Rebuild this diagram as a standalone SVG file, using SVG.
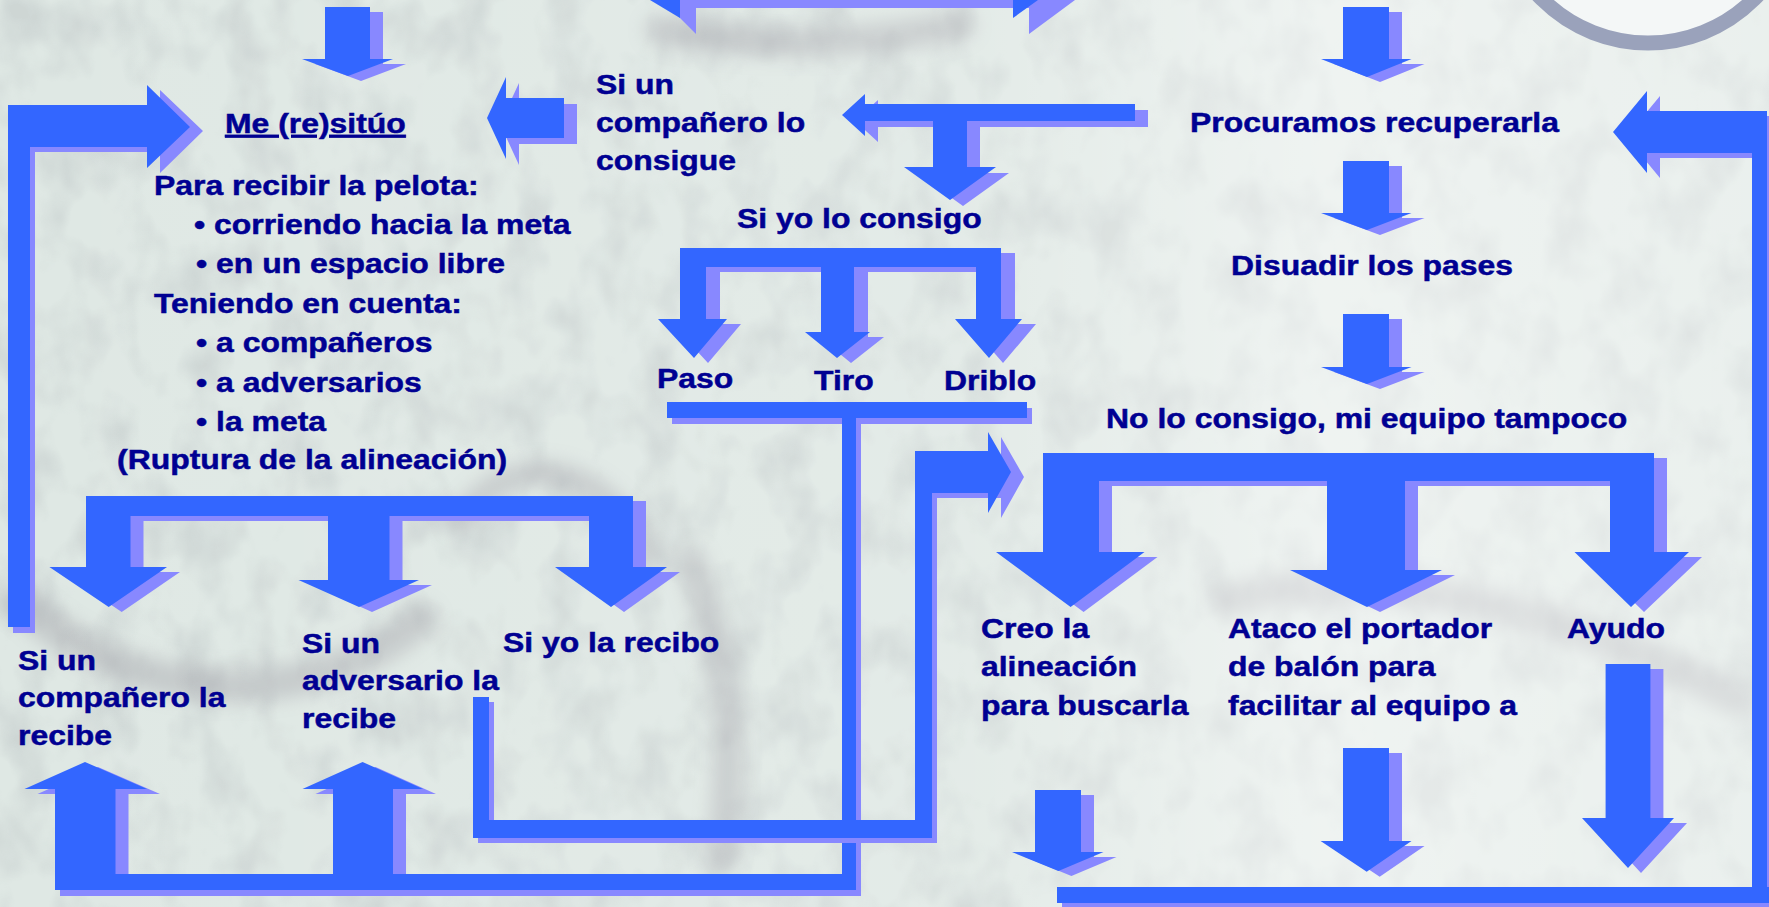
<svg xmlns="http://www.w3.org/2000/svg" xmlns:xlink="http://www.w3.org/1999/xlink" width="1769" height="907" viewBox="0 0 1769 907">
<style>
.b{fill:#3366ff}
.s{fill:#8888ff}
.t{font-family:"Liberation Sans",Arial,sans-serif;font-weight:bold;font-size:28.5px;fill:#000092;stroke:#000092;stroke-width:0.5px}
</style>
<defs>
<filter id="tex" x="0" y="0" width="1" height="1" filterUnits="objectBoundingBox">
<feTurbulence type="fractalNoise" baseFrequency="0.022 0.016" numOctaves="3" seed="5" result="n"/>
<feColorMatrix in="n" type="matrix" values="0 0 0 0 0.55  0 0 0 0 0.6  0 0 0 0 0.6  2.4 0 0 0 -1.0"/>
</filter>
<filter id="blur" x="-20%" y="-20%" width="140%" height="140%"><feGaussianBlur stdDeviation="9"/></filter>
<linearGradient id="fade" x1="0" y1="0" x2="1" y2="0">
<stop offset="0" stop-color="#ffffff" stop-opacity="0"/>
<stop offset="0.55" stop-color="#ffffff" stop-opacity="0.15"/>
<stop offset="0.75" stop-color="#ffffff" stop-opacity="0.5"/>
<stop offset="1" stop-color="#ffffff" stop-opacity="0.35"/>
</linearGradient>
<path id="a-top" d="M325,7H370V59H393L348,76L302,59H325Z"/>
<path id="a-r1" d="M1343,7H1389V59H1411.5L1367,77L1321,59H1343Z"/>
<path id="a-r2" d="M1343,161H1389V213H1411.5L1367,230L1321,213H1343Z"/>
<path id="a-r3" d="M1343,314H1389V367H1411.5L1367,384L1321,367H1343Z"/>
<path id="a-left" d="M564,98V138H506V159L487,118L506,77V98Z"/>
<path id="a-t" d="M1135,104V121H967V167H996L950,200L904,167H933V121H865V136L842,115L865,94V104Z"/>
<path id="a-three" d="M680,248H1001V319H1022L989,358L955,319H976V267H854V332H870L837,358L805,332H821V267H706V319H727L694,358L658,319H680Z"/>
<path id="a-paso" d="M667,402H1027V418H856V890H55V874H842V418H667Z"/>
<path id="a-up1" d="M55,874V789H24.5L85,762L147,789H115.5V874Z"/>
<path id="a-up2" d="M333,874V789H302.5L362.6,762L423,789H393V874Z"/>
<path id="a-big" d="M1043,453H1654V552H1689L1631,607L1574.5,552H1610V481H1405V570H1442L1367,607L1290,570H1327V481H1099V552H1144.5L1070.6,607L996,552H1043Z"/>
<path id="a-k1" d="M1035,790H1081V852H1103.5L1058.4,871L1012,852H1035Z"/>
<path id="a-k2" d="M1343,748H1389V841H1411.5L1366.7,871.7L1320.6,841H1343Z"/>
<path id="a-k3" d="M1605.6,664H1650.4V818H1674L1628,868L1582,818H1605.6Z"/>
<path id="a-lthree" d="M86,496H633V567H667L611,607L555,567H589V516H389.5V580H419L359,607L298.5,580H328V516H130.5V567H167L108.7,607L49.4,567H86Z"/>
</defs>

<g id="background">
<rect width="1769" height="907" fill="#dfe8e4"/>
<rect width="1769" height="907" filter="url(#tex)" opacity="0.6"/>
<g filter="url(#blur)" fill="none" stroke="#8f8c96" stroke-linecap="round" opacity="0.33">
<path d="M20,600 C120,700 300,720 420,620" stroke-width="34"/>
<path d="M460,520 C520,440 610,470 650,560" stroke-width="26"/>
<path d="M1230,600 C1380,560 1560,610 1740,700" stroke-width="34"/>
<path d="M660,30 C760,50 860,45 960,25" stroke-width="30"/>
<path d="M690,560 C720,640 740,720 720,860" stroke-width="30"/>
</g>
<rect width="1769" height="907" fill="url(#fade)"/>
<circle cx="1648" cy="-107" r="150" fill="#f4f7f7" stroke="#9aa2bb" stroke-width="15"/>
</g>

<g id="connectors">
<path class="s" d="M662,0H1075L1029,34V8H696V34Z"/>
<path class="b" d="M650,0H680V18Z"/>
<path class="b" d="M1013,0H1038L1013,18Z"/>

<use xlink:href="#a-top" class="s" transform="translate(13,5)"/>
<use xlink:href="#a-top" class="b"/>
<use xlink:href="#a-r1" class="s" transform="translate(13,5)"/>
<use xlink:href="#a-r1" class="b"/>
<use xlink:href="#a-r2" class="s" transform="translate(13,5)"/>
<use xlink:href="#a-r2" class="b"/>
<use xlink:href="#a-r3" class="s" transform="translate(13,5)"/>
<use xlink:href="#a-r3" class="b"/>

<path class="s" d="M13,110H160V90L203,131L160,173V152H35V633H13Z"/>
<path class="b" d="M8,105H147V85L190,127L147,168V147H30V627H8Z"/>

<use xlink:href="#a-left" class="s" transform="translate(13,6)"/>
<use xlink:href="#a-left" class="b"/>
<use xlink:href="#a-t" class="s" transform="translate(13,6)"/>
<use xlink:href="#a-t" class="b"/>
<use xlink:href="#a-three" class="s" transform="translate(14,5)"/>
<use xlink:href="#a-three" class="b"/>

<use xlink:href="#a-lthree" class="s" transform="translate(13,5)"/>
<use xlink:href="#a-lthree" class="b"/>

<use xlink:href="#a-paso" class="s" transform="translate(5,6)"/>
<use xlink:href="#a-up1" class="s" transform="translate(13,5)"/>
<use xlink:href="#a-up2" class="s" transform="translate(13,5)"/>
<use xlink:href="#a-paso" class="b"/>
<use xlink:href="#a-up1" class="b"/>
<use xlink:href="#a-up2" class="b"/>

<path class="s" d="M478,702H494V825H920V456H1001V437L1024,477L1001,518V498H937V843H478Z"/>
<path class="b" d="M473,697H489V820H915V451H988V432L1011,472L988,513V493H932V838H473Z"/>

<use xlink:href="#a-big" class="s" transform="translate(13,5)"/>
<use xlink:href="#a-big" class="b"/>

<use xlink:href="#a-k1" class="s" transform="translate(13,5)"/>
<use xlink:href="#a-k1" class="b"/>
<use xlink:href="#a-k2" class="s" transform="translate(13,5)"/>
<use xlink:href="#a-k2" class="b"/>
<use xlink:href="#a-k3" class="s" transform="translate(13,5)"/>
<use xlink:href="#a-k3" class="b"/>

<path class="s" d="M1660,96L1626,137L1660,178V158H1757V892H1062V908H1774V892H1772V116H1660Z"/>
<path class="b" d="M1647,91L1613,132L1647,173V153H1752V887H1057V903H1769V887H1767V111H1647Z"/>
</g>

<g id="node-me">
<text class="t" transform="matrix(1.12 0 0 1 225 133)" text-decoration="underline">Me (re)sitúo</text>
<text class="t" transform="matrix(1.12 0 0 1 154 195)">Para recibir la pelota:</text>
<text class="t" transform="matrix(1.12 0 0 1 194 234)">• corriendo hacia la meta</text>
<text class="t" transform="matrix(1.12 0 0 1 196 273)">• en un espacio libre</text>
<text class="t" transform="matrix(1.12 0 0 1 154 313)">Teniendo en cuenta:</text>
<text class="t" transform="matrix(1.12 0 0 1 196 352)">• a compañeros</text>
<text class="t" transform="matrix(1.12 0 0 1 196 392)">• a adversarios</text>
<text class="t" transform="matrix(1.12 0 0 1 196 431)">• la meta</text>
<text class="t" transform="matrix(1.12 0 0 1 117 469)">(Ruptura de la alineación)</text>
</g>
<g id="node-companero-consigue">
<text class="t" transform="matrix(1.12 0 0 1 596 94)"><tspan x="0" y="0">Si un</tspan><tspan x="0" y="38">compañero lo</tspan><tspan x="0" y="76">consigue</tspan></text>
</g>
<g id="node-yo-consigo">
<text class="t" transform="matrix(1.12 0 0 1 737 228)">Si yo lo consigo</text>
</g>
<g id="node-paso"><text class="t" transform="matrix(1.12 0 0 1 657 388)">Paso</text></g>
<g id="node-tiro"><text class="t" transform="matrix(1.12 0 0 1 814 390)">Tiro</text></g>
<g id="node-driblo"><text class="t" transform="matrix(1.12 0 0 1 944 390)">Driblo</text></g>
<g id="node-procuramos"><text class="t" transform="matrix(1.12 0 0 1 1190 132)">Procuramos recuperarla</text></g>
<g id="node-disuadir"><text class="t" transform="matrix(1.12 0 0 1 1231 275)">Disuadir los pases</text></g>
<g id="node-no-consigo"><text class="t" transform="matrix(1.12 0 0 1 1106 428)">No lo consigo, mi equipo tampoco</text></g>
<g id="node-creo">
<text class="t" transform="matrix(1.12 0 0 1 981 638)"><tspan x="0" y="0">Creo la</tspan><tspan x="0" y="38.5">alineación</tspan><tspan x="0" y="77">para buscarla</tspan></text>
</g>
<g id="node-ataco">
<text class="t" transform="matrix(1.12 0 0 1 1228 638)"><tspan x="0" y="0">Ataco el portador</tspan><tspan x="0" y="38.5">de balón para</tspan><tspan x="0" y="77">facilitar al equipo a</tspan></text>
</g>
<g id="node-ayudo"><text class="t" transform="matrix(1.12 0 0 1 1567 638)">Ayudo</text></g>
<g id="node-companero-recibe">
<text class="t" transform="matrix(1.12 0 0 1 18 670)"><tspan x="0" y="0">Si un</tspan><tspan x="0" y="37.5">compañero la</tspan><tspan x="0" y="75">recibe</tspan></text>
</g>
<g id="node-adversario-recibe">
<text class="t" transform="matrix(1.12 0 0 1 302 653)"><tspan x="0" y="0">Si un</tspan><tspan x="0" y="37.5">adversario la</tspan><tspan x="0" y="75">recibe</tspan></text>
</g>
<g id="node-yo-recibo"><text class="t" transform="matrix(1.12 0 0 1 503 652)">Si yo la recibo</text></g>
</svg>
